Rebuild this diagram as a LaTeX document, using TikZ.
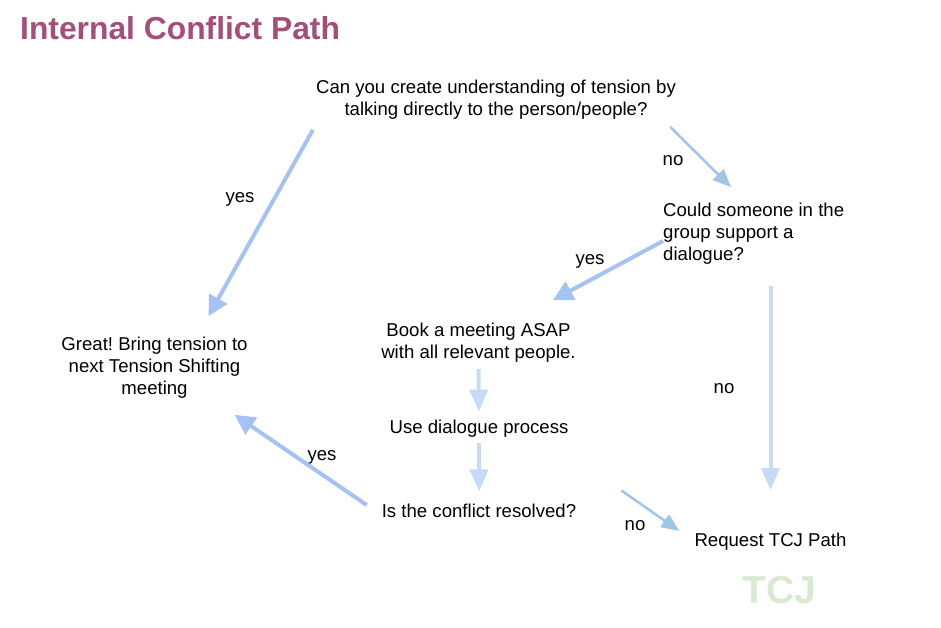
\documentclass[tikz,border=0pt]{standalone}
\usepackage{fontspec}
\setmainfont{Liberation Sans}
\usetikzlibrary{arrows.meta}
\definecolor{titlepink}{HTML}{A64D79}
\definecolor{yesblue}{HTML}{A4C2F4}
\definecolor{noblue}{HTML}{9FC5E8}
\definecolor{stepblue}{HTML}{C9DAF8}
\definecolor{logogreen}{HTML}{D9EAD3}
\frenchspacing
\tikzset{
  txt/.style={font=\fontsize{18.6}{22}\selectfont, align=center, inner sep=0pt},
  yesarrow/.style={draw=yesblue, line width=4pt, -{Triangle[length=20pt,width=20pt]}},
  noarrow/.style={draw=noblue, line width=2.5pt, -{Triangle[length=18pt,width=15pt]}},
  steparrow/.style={draw=stepblue, line width=4pt, -{Triangle[length=22pt,width=18pt]}}
}

\begin{document}
\begin{tikzpicture}[x=1pt,y=-1pt]
\useasboundingbox (0,0) rectangle (941,628);
\node[anchor=west, inner sep=0pt, text=titlepink, font=\fontsize{31.8}{36}\selectfont\bfseries] (title) at (20,28) {Internal Conflict Path};
\node[txt] (talk) at (496,100) {Can you create understanding of tension by\\talking directly to the person/people?};
\node[txt, align=left, anchor=west] (someone) at (663,234) {Could someone in the\\group support a\\dialogue?};
\node[txt] (book) at (478.5,343) {Book a meeting ASAP\\with all relevant people.};
\node[txt] (dialogue) at (479,429) {Use dialogue process};
\node[txt] (resolved) at (479,511) {Is the conflict resolved?};
\node[txt] (great) at (154.5,368) {Great! Bring tension to\\next Tension Shifting\\meeting};
\node[txt] (request) at (770.5,542) {Request TCJ Path};
\node[inner sep=0pt, text=logogreen, font=\fontsize{39}{44}\selectfont\bfseries] (logo) at (779,590) {TCJ};
\node[txt] (yes1) at (240,199) {yes};
\node[txt] (no1) at (673,161) {no};
\node[txt] (yes2) at (590,261) {yes};
\node[txt] (no2) at (724,389) {no};
\node[txt] (yes3) at (322,457) {yes};
\node[txt] (no3) at (635,526) {no};
\draw[yesarrow] ([xshift=-3pt,yshift=-10pt]talk.south west) -- ([xshift=54pt,yshift=21pt]great.north);
\draw[noarrow] ([xshift=-6pt,yshift=-7pt]talk.south east) -- ([xshift=68pt,yshift=16pt]someone.north west);
\draw[yesarrow] ([yshift=-7pt]someone.west) -- ([xshift=-23pt,yshift=23pt]book.north east);
\draw[steparrow] ([yshift=-21pt]someone.south -| request.north) -- ([yshift=43pt]request.north);
\draw[steparrow] ([yshift=-6pt]book.south) -- ([yshift=8.5pt]dialogue.north);
\draw[steparrow] ([yshift=-5pt]dialogue.south) -- ([yshift=12.5pt]resolved.north);
\draw[yesarrow] ([xshift=-15pt,yshift=6pt]resolved.west) -- ([xshift=-13pt,yshift=-16pt]great.south east);
\draw[noarrow] ([xshift=45pt,yshift=13.5pt]resolved.north east) -- ([xshift=-15pt,yshift=11pt]request.west);
\end{tikzpicture}
\end{document}
